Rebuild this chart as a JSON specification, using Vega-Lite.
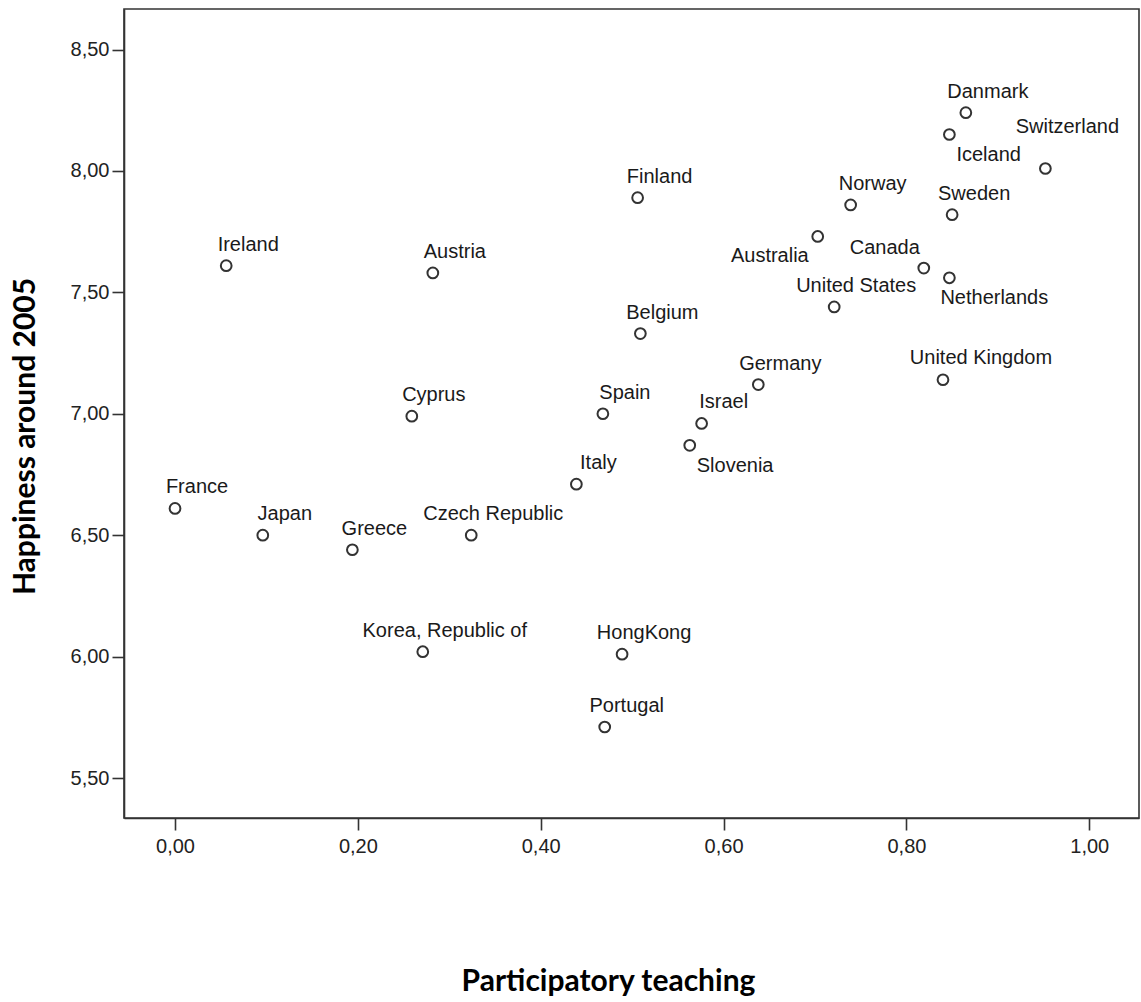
{
  "$schema": "https://vega.github.io/schema/vega-lite/v6.json",
  "width": 1015,
  "height": 809,
  "autosize": {"type": "none"},
  "padding": {"left": 124, "top": 9, "right": 2, "bottom": 184},
  "background": "white",
  "config": {
    "view": {"stroke": "#333333", "strokeWidth": 1.6},
    "axis": {
      "grid": false,
      "domainColor": "#333333",
      "domainWidth": 1.6,
      "tickColor": "#333333",
      "tickWidth": 1.6,
      "tickSize": 12,
      "labelFont": "Liberation Sans",
      "labelFontSize": 20,
      "labelColor": "#222222",
      "titleFont": "Lato",
      "titleFontWeight": "bold",
      "titleFontSize": 30,
      "titleColor": "#000000"
    }
  },
  "data": {
    "values": [
      {"country": "Ireland", "pt": 0.056, "happy": 7.61},
      {"country": "Austria", "pt": 0.282, "happy": 7.58},
      {"country": "Cyprus", "pt": 0.259, "happy": 6.99},
      {"country": "France", "pt": 0.0, "happy": 6.61},
      {"country": "Japan", "pt": 0.096, "happy": 6.5},
      {"country": "Greece", "pt": 0.194, "happy": 6.44},
      {"country": "Czech Republic", "pt": 0.324, "happy": 6.5},
      {"country": "Finland", "pt": 0.506, "happy": 7.89},
      {"country": "Norway", "pt": 0.739, "happy": 7.86},
      {"country": "Australia", "pt": 0.703, "happy": 7.73},
      {"country": "United States", "pt": 0.721, "happy": 7.44},
      {"country": "Belgium", "pt": 0.509, "happy": 7.33},
      {"country": "Danmark", "pt": 0.865, "happy": 8.24},
      {"country": "Iceland", "pt": 0.847, "happy": 8.15},
      {"country": "Switzerland", "pt": 0.952, "happy": 8.01},
      {"country": "Sweden", "pt": 0.85, "happy": 7.82},
      {"country": "Canada", "pt": 0.819, "happy": 7.6},
      {"country": "Netherlands", "pt": 0.847, "happy": 7.56},
      {"country": "Germany", "pt": 0.638, "happy": 7.12},
      {"country": "Israel", "pt": 0.576, "happy": 6.96},
      {"country": "Slovenia", "pt": 0.563, "happy": 6.87},
      {"country": "United Kingdom", "pt": 0.84, "happy": 7.14},
      {"country": "Korea, Republic of", "pt": 0.271, "happy": 6.02},
      {"country": "HongKong", "pt": 0.489, "happy": 6.01},
      {"country": "Portugal", "pt": 0.47, "happy": 5.71},
      {"country": "Spain", "pt": 0.468, "happy": 7.0},
      {"country": "Italy", "pt": 0.439, "happy": 6.71}
    ]
  },
  "encoding": {
    "x": {
      "field": "pt",
      "type": "quantitative",
      "scale": {"domain": [-0.0558, 1.0544], "nice": false, "zero": false},
      "axis": {
        "values": [0, 0.2, 0.4, 0.6, 0.8, 1.0],
        "labelExpr": "replace(format(datum.value, '.2f'), '.', ',')",
        "labelPadding": 6,
        "title": "Participatory teaching",
        "titleX": 484,
        "titleY": 172,
        "titleAlign": "center",
        "titleBaseline": "alphabetic"
      }
    },
    "y": {
      "field": "happy",
      "type": "quantitative",
      "scale": {"domain": [5.3353, 8.6668], "nice": false, "zero": false},
      "axis": {
        "values": [5.5, 6.0, 6.5, 7.0, 7.5, 8.0, 8.5],
        "labelExpr": "replace(format(datum.value, '.2f'), '.', ',')",
        "labelPadding": 3,
        "title": "Happiness around 2005",
        "titleX": -90,
        "titleY": 427,
        "titleAngle": -90,
        "titleAlign": "center",
        "titleBaseline": "alphabetic"
      }
    }
  },
  "layer": [
    {
      "mark": {"type": "point", "shape": "circle", "filled": false, "size": 115, "stroke": "#333333", "strokeWidth": 2, "opacity": 1}
    },
    {
      "transform": [{"filter": {"not": {"field": "country", "oneOf": ["Switzerland", "United Kingdom", "Iceland", "Slovenia", "Netherlands", "Australia", "Canada"]}}}],
      "mark": {"type": "text", "font": "Liberation Sans", "fontSize": 20, "color": "#1a1a1a", "align": "center", "baseline": "middle", "dx": 22, "dy": -21},
      "encoding": {"text": {"field": "country"}}
    },
    {
      "transform": [{"filter": {"field": "country", "oneOf": ["Switzerland"]}}],
      "mark": {"type": "text", "font": "Liberation Sans", "fontSize": 20, "color": "#1a1a1a", "align": "center", "baseline": "middle", "dx": 22, "dy": -41},
      "encoding": {"text": {"field": "country"}}
    },
    {
      "transform": [{"filter": {"field": "country", "oneOf": ["United Kingdom"]}}],
      "mark": {"type": "text", "font": "Liberation Sans", "fontSize": 20, "color": "#1a1a1a", "align": "center", "baseline": "middle", "dx": 38, "dy": -22},
      "encoding": {"text": {"field": "country"}}
    },
    {
      "transform": [{"filter": {"field": "country", "oneOf": ["Iceland", "Slovenia"]}}],
      "mark": {"type": "text", "font": "Liberation Sans", "fontSize": 20, "color": "#1a1a1a", "align": "left", "baseline": "middle", "dx": 7, "dy": 21},
      "encoding": {"text": {"field": "country"}}
    },
    {
      "transform": [{"filter": {"field": "country", "oneOf": ["Netherlands"]}}],
      "mark": {"type": "text", "font": "Liberation Sans", "fontSize": 20, "color": "#1a1a1a", "align": "left", "baseline": "middle", "dx": -9, "dy": 20},
      "encoding": {"text": {"field": "country"}}
    },
    {
      "transform": [{"filter": {"field": "country", "oneOf": ["Australia"]}}],
      "mark": {"type": "text", "font": "Liberation Sans", "fontSize": 20, "color": "#1a1a1a", "align": "right", "baseline": "middle", "dx": -9, "dy": 20},
      "encoding": {"text": {"field": "country"}}
    },
    {
      "transform": [{"filter": {"field": "country", "oneOf": ["Canada"]}}],
      "mark": {"type": "text", "font": "Liberation Sans", "fontSize": 20, "color": "#1a1a1a", "align": "right", "baseline": "middle", "dx": -4, "dy": -20},
      "encoding": {"text": {"field": "country"}}
    }
  ]
}
